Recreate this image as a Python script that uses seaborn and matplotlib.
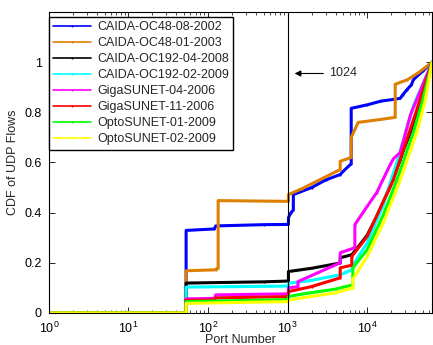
import numpy as np
import pandas as pd
import matplotlib
matplotlib.use("Agg")
import matplotlib.pyplot as plt
import matplotlib.ticker as mticker
import seaborn as sns

# =====================================================
# Data
# =====================================================

labels = [
    "CAIDA-OC48-08-2002",
    "CAIDA-OC48-01-2003",
    "CAIDA-OC192-04-2008",
    "CAIDA-OC192-02-2009",
    "GigaSUNET-04-2006",
    "GigaSUNET-11-2006",
    "OptoSUNET-01-2009",
    "OptoSUNET-02-2009",
]

colors = ["#0000ff", "#dd8000", "#000000", "#00ffff",
          "#ff00ff", "#ff0000", "#00ff00", "#ffff00"]

ports_oc48_2002 = [1, 53, 53, 120, 125, 500, 1000, 1024, 1024, 1100, 1180, 1180,
                   2000, 3000, 4580, 5000, 6300, 6300, 10000, 15000, 22000,
                   26000, 28000, 31500, 36000, 38000, 50000, 65535]
cdf_oc48_2002 = [0, 0, 0.329, 0.335, 0.347, 0.352, 0.353, 0.355, 0.38, 0.40, 0.41, 0.472,
                 0.50, 0.53, 0.552, 0.565, 0.595, 0.816, 0.83, 0.845, 0.852,
                 0.856, 0.87, 0.89, 0.91, 0.93, 0.965, 1.0]

ports_oc48_2003 = [1, 53, 53, 125, 130, 134, 134, 500, 1000, 1024, 1024, 1500, 2500,
                   4580, 4580, 6300, 6300, 7700, 15000, 22500, 22500, 32000, 45000, 65535]
cdf_oc48_2003 = [0, 0, 0.168, 0.172, 0.178, 0.178, 0.448, 0.446, 0.445, 0.447, 0.472, 0.495, 0.53,
                 0.572, 0.605, 0.62, 0.70, 0.76, 0.772, 0.78, 0.912, 0.93, 0.96, 1.0]

ports_oc192_2008 = [1, 53, 53, 500, 1000, 1024, 1024, 2000, 4580, 4580, 6400, 8000,
                    10000, 13200, 19500, 26000, 28600, 35000, 42000, 65535]
cdf_oc192_2008 = [0, 0, 0.119, 0.124, 0.127, 0.128, 0.165, 0.178, 0.199, 0.22, 0.232, 0.27,
                  0.31, 0.385, 0.505, 0.61, 0.65, 0.72, 0.80, 1.0]

ports_oc192_2009 = [1, 53, 53, 1000, 1024, 1024, 2000, 4580, 6400, 6600, 10000,
                    16000, 19500, 23600, 28600, 38000, 65535]
cdf_oc192_2009 = [0, 0, 0.103, 0.107, 0.108, 0.118, 0.13, 0.152, 0.172, 0.19, 0.28,
                  0.432, 0.52, 0.60, 0.69, 0.825, 1.0]

ports_giga_04 = [1, 53, 53, 120, 125, 1000, 1024, 1024, 1350, 1350, 4580, 4580,
                 7000, 7000, 10000, 13200, 19500, 21400, 26000, 35000, 65535]
cdf_giga_04 = [0, 0, 0.056, 0.058, 0.072, 0.076, 0.078, 0.10, 0.105, 0.125, 0.2, 0.24,
               0.26, 0.352, 0.425, 0.48, 0.592, 0.615, 0.64, 0.79, 1.0]

ports_giga_11 = [1, 53, 53, 120, 125, 1000, 1024, 1024, 2000, 4580, 4580, 6400, 6400,
                 10000, 16000, 21400, 24600, 33000, 42000, 65535]
cdf_giga_11 = [0, 0, 0.05, 0.052, 0.06, 0.065, 0.066, 0.085, 0.105, 0.14, 0.18, 0.19, 0.225,
               0.305, 0.445, 0.532, 0.59, 0.71, 0.81, 1.0]

ports_opto_01 = [1, 53, 53, 1000, 1024, 1024, 1500, 4000, 6600, 6600, 10000,
                 16000, 23700, 38000, 49000, 65535]
cdf_opto_01 = [0, 0, 0.045, 0.053, 0.054, 0.065, 0.075, 0.095, 0.112, 0.18, 0.252,
               0.392, 0.532, 0.72, 0.84, 1.0]

ports_opto_02 = [1, 53, 53, 1000, 1024, 1024, 1500, 4000, 6600, 6600, 10000,
                 16000, 26000, 42000, 53000, 65535]
cdf_opto_02 = [0, 0, 0.038, 0.045, 0.046, 0.05, 0.06, 0.08, 0.1, 0.135, 0.225,
               0.36, 0.53, 0.72, 0.84, 1.0]

all_ports = [ports_oc48_2002, ports_oc48_2003, ports_oc192_2008, ports_oc192_2009,
             ports_giga_04, ports_giga_11, ports_opto_01, ports_opto_02]
all_cdf = [cdf_oc48_2002, cdf_oc48_2003, cdf_oc192_2008, cdf_oc192_2009,
           cdf_giga_04, cdf_giga_11, cdf_opto_01, cdf_opto_02]

yticks = [0, 0.2, 0.4, 0.6, 0.8, 1]
ytick_labels = ["0", "0.2", "0.4", "0.6", "0.8", "1"]

# =====================================================
# Plot
# =====================================================

sns.set_theme(style="ticks")
plt.rcParams["font.family"] = ["Liberation Sans", "DejaVu Sans"]

fig = plt.figure(figsize=(4.33, 3.45), dpi=100)
ax = fig.add_axes([0.113, 0.093, 0.885, 0.872])

for name, color, px, py in zip(labels, colors, all_ports, all_cdf):
    df = pd.DataFrame({"port": px, "cdf": py})
    sns.lineplot(
        data=df,
        x="port",
        y="cdf",
        estimator=None,
        sort=False,
        color=color,
        linewidth=2.2,
        marker=".",
        markersize=3,
        markeredgewidth=0,
        label=name,
        ax=ax,
    )

ax.set_xscale("log")
ax.set_xlim(1, 65535)
ax.set_ylim(0, 1.2)

ax.axvline(1024, color="black", linewidth=0.8)

ax.annotate(
    "1024",
    xy=(1130, 0.955),
    xytext=(3350, 0.955),
    fontsize=9,
    va="center",
    ha="left",
    arrowprops=dict(arrowstyle="-|>", color="black", lw=0.8, mutation_scale=9),
)

ax.set_yticks(yticks)
ax.set_yticklabels(ytick_labels)
ax.xaxis.set_major_locator(mticker.LogLocator(base=10, numticks=10))
ax.xaxis.set_minor_locator(mticker.LogLocator(base=10, subs=np.arange(2, 10), numticks=10))

ax.tick_params(axis="both", which="both", direction="in", top=True, right=True,
               labelsize=9, colors="black")
ax.tick_params(axis="both", which="major", length=4, width=0.6)
ax.tick_params(axis="x", which="minor", length=2, width=0.5)
ax.tick_params(axis="x", which="major", pad=5.5)
ax.tick_params(axis="y", which="major", pad=5)

for spine in ax.spines.values():
    spine.set_color("black")
    spine.set_linewidth(0.8)

ax.set_xlabel("Port Number", fontsize=9, labelpad=-1)
ax.set_ylabel("CDF of UDP Flows", fontsize=9, labelpad=4)

leg = ax.legend(
    loc="upper left",
    bbox_to_anchor=(0, 1 - 5 / 301),
    borderaxespad=0,
    fontsize=9,
    frameon=True,
    fancybox=False,
    handlelength=3.0,
    handletextpad=0.5,
    labelspacing=0.32,
    borderpad=0.35,
)
leg.get_frame().set_edgecolor("black")
leg.get_frame().set_linewidth(1.0)
leg.get_frame().set_alpha(1)
for line in leg.get_lines():
    line.set_linewidth(1.2)

fig.savefig("out.png", dpi=100)
